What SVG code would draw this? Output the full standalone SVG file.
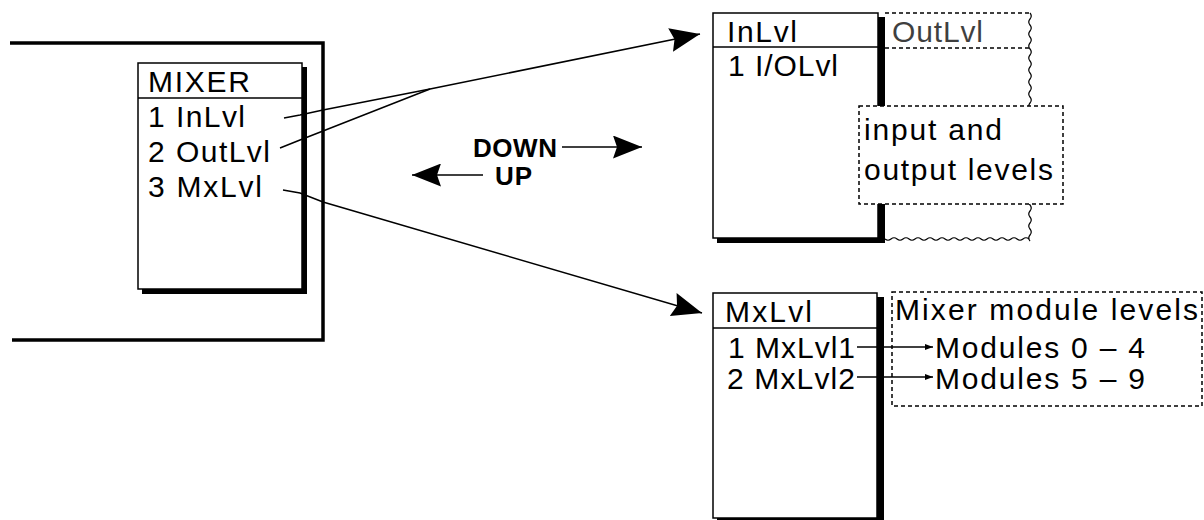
<svg xmlns="http://www.w3.org/2000/svg" width="1204" height="520" viewBox="0 0 1204 520">
  <style>
    .box { fill: #fff; stroke: #000; stroke-width: 1.5; }
    .shadow { fill: #000; }
    .rule { stroke: #000; stroke-width: 1.5; }
    .dash { fill: none; stroke: #000; stroke-width: 1.5; stroke-dasharray: 4 3; }
    .note { fill: #fff; stroke: #000; stroke-width: 1.5; stroke-dasharray: 4 3; }
    .wave { fill: none; stroke: #000; stroke-width: 1.2; }
    .t { font-family: "Liberation Sans", Arial, sans-serif; font-size: 30px; fill: #000; }
    .ghost { fill: #000; opacity: 0.75; }
    .b { font-family: "Liberation Sans", Arial, sans-serif; font-weight: bold; font-size: 26px; fill: #000; }
    .wire { fill: none; stroke: #000; stroke-width: 1.5; }
  </style>
  <defs>
    <marker id="bigHead" viewBox="0 0 30 24" refX="30" refY="12" markerWidth="30" markerHeight="24" markerUnits="userSpaceOnUse" orient="auto">
      <path d="M0,0 L30,12 L0,24 L4,12 Z" fill="#000"/>
    </marker>
    <marker id="midHead" viewBox="0 0 29 23" refX="29" refY="11.5" markerWidth="29" markerHeight="23" markerUnits="userSpaceOnUse" orient="auto">
      <path d="M0,0 L29,11.5 L0,23 L4,11.5 Z" fill="#000"/>
    </marker>
    <marker id="smallHead" viewBox="0 0 8 6" refX="8" refY="3" markerWidth="8" markerHeight="6" markerUnits="userSpaceOnUse" orient="auto">
      <path d="M0,0 L8,3 L0,6 Z" fill="#000"/>
    </marker>
  </defs>

  <rect width="1204" height="520" fill="#fff"/>

  <!-- enclosing frame around the mixer panel -->
  <g id="frame">
    <path d="M10,43 H323 V340 H12" fill="none" stroke="#000" stroke-width="3.5"/>
  </g>

  <!-- MIXER menu -->
  <g id="mixer">
    <rect class="shadow" x="142" y="67" width="165" height="227"/>
    <rect class="box" x="138" y="63" width="164" height="226"/>
    <line class="rule" x1="138" y1="98" x2="302" y2="98"/>
    <text class="t" x="148" y="92" textLength="102">MIXER</text>
    <text class="t" x="148" y="127" textLength="97">1 InLvl</text>
    <text class="t" x="148" y="162" textLength="122">2 OutLvl</text>
    <text class="t" x="148" y="197" textLength="114">3 MxLvl</text>
  </g>

  <!-- stacked OutLvl page behind InLvl -->
  <g id="outlvl">
    <line class="dash" x1="885" y1="13" x2="1030" y2="13"/>
    <line class="dash" x1="885" y1="48" x2="1030" y2="48"/>
    <path class="wave" d="M1030,13 q2.5,3 0,6 t0,6 t0,6 t0,6 t0,6 t0,6 t0,6 t0,6 t0,6 t0,6 t0,6 t0,6 t0,6 t0,6 t0,6 t0,6 t0,6 t0,6 t0,6 t0,6 t0,6 t0,6 t0,6 t0,6 t0,6 t0,6 t0,6 t0,6 t0,6 t0,6 t0,6 t0,6 t0,6 t0,6 t0,6 t0,6 t0,6 t0,6"/>
    <path class="wave" d="M885,239 q3,2.5 6,0 t6,0 t6,0 t6,0 t6,0 t6,0 t6,0 t6,0 t6,0 t6,0 t6,0 t6,0 t6,0 t6,0 t6,0 t6,0 t6,0 t6,0 t6,0 t6,0 t6,0 t6,0 t6,0 t6,0"/>
    <text class="t ghost" x="892" y="42" textLength="91">OutLvl</text>
  </g>

  <!-- InLvl menu -->
  <g id="inlvl">
    <rect class="shadow" x="717" y="17" width="168" height="226"/>
    <rect class="box" x="713" y="13" width="165" height="225"/>
    <line class="rule" x1="713" y1="47" x2="878" y2="47"/>
    <text class="t" x="727" y="42" textLength="70">InLvl</text>
    <text class="t" x="728" y="76" textLength="110">1 I/OLvl</text>
  </g>

  <!-- note: input and output levels -->
  <g id="io-note">
    <rect class="note" x="859" y="106" width="204" height="98"/>
    <text class="t" x="864" y="140" textLength="138">input and</text>
    <text class="t" x="864" y="180" textLength="189">output levels</text>
  </g>

  <!-- MxLvl menu -->
  <g id="mxlvl">
    <rect class="shadow" x="717" y="297" width="167" height="227"/>
    <rect class="box" x="713" y="293" width="164" height="225"/>
    <line class="rule" x1="713" y1="328" x2="877" y2="328"/>
    <text class="t" x="725" y="322" textLength="87">MxLvl</text>
    <text class="t" x="728" y="358" textLength="127">1 MxLvl1</text>
    <text class="t" x="727" y="389" textLength="128">2 MxLvl2</text>
  </g>

  <!-- note: mixer module levels -->
  <g id="module-note">
    <rect class="note" x="892" y="292" width="310" height="114"/>
    <text class="t" x="895" y="320" textLength="303">Mixer module levels</text>
    <text class="t" x="935" y="358" textLength="210">Modules 0 – 4</text>
    <text class="t" x="935" y="389" textLength="210">Modules 5 – 9</text>
  </g>

  <!-- navigation legend -->
  <g id="legend">
    <text class="b" x="473" y="157" textLength="84">DOWN</text>
    <text class="b" x="495" y="185" textLength="37">UP</text>
  </g>

  <g id="connectors">
    <polyline class="wire" points="284,118 300,115 323,110 430,89 700,34" marker-end="url(#bigHead)"/>
    <polyline class="wire" points="280,148 300,140 323,131 430,89"/>
    <polyline class="wire" points="283,190 300,193 323,202 702,313" marker-end="url(#bigHead)"/>
    <line class="wire" x1="562" y1="147" x2="642" y2="147" marker-end="url(#midHead)"/>
    <line class="wire" x1="483" y1="175" x2="412" y2="175" marker-end="url(#midHead)"/>
    <line class="wire" x1="857" y1="347" x2="933" y2="347" marker-end="url(#smallHead)"/>
    <line class="wire" x1="857" y1="377" x2="933" y2="377" marker-end="url(#smallHead)"/>
  </g>
</svg>
